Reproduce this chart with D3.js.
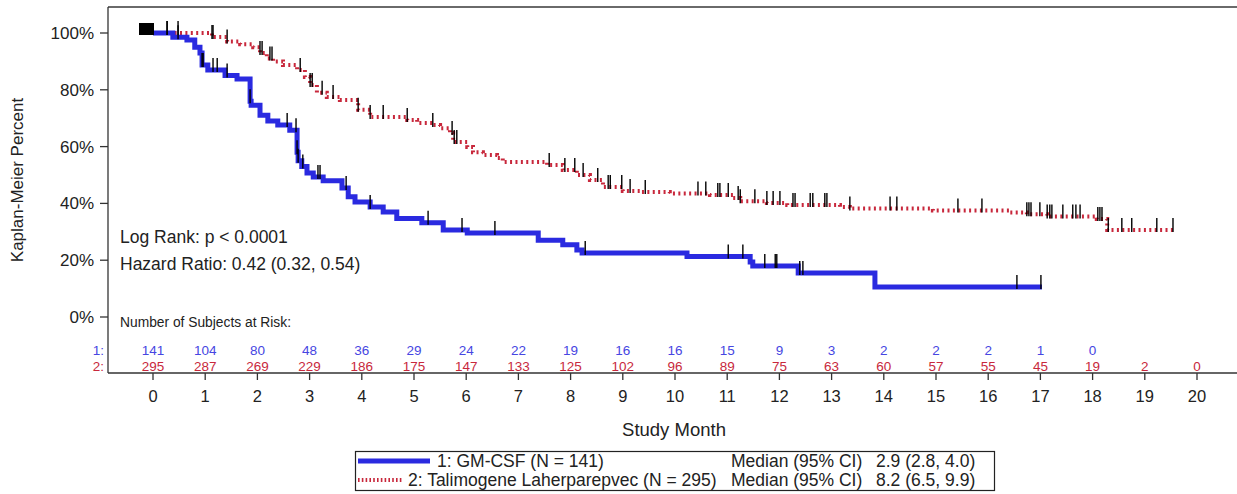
<!DOCTYPE html>
<html>
<head>
<meta charset="utf-8">
<script src="https://cdn.jsdelivr.net/npm/d3@7"></script>
<style>
  body { margin: 0; background: #fff; }
  svg { display: block; font-family: "Liberation Sans", Arial, sans-serif; }
</style>
</head>
<body>
<svg id="chart" width="1237" height="494"></svg>
<script>
// Kaplan-Meier curves: [month, percent] at each step
const gmcsfSteps = [
  [0, 100], [0.38, 98.5], [0.65, 97.5], [0.80, 95], [0.90, 93], [0.94, 88.7],
  [1.05, 87], [1.38, 85], [1.61, 83.8], [1.86, 76], [1.88, 74.6], [2.05, 71],
  [2.20, 69], [2.39, 67.6], [2.62, 65.8], [2.76, 58], [2.78, 55], [2.85, 53],
  [2.95, 50.7], [3.07, 49.3], [3.26, 48], [3.62, 45.4], [3.74, 42.3], [3.87, 40.5],
  [4.16, 38.7], [4.41, 37], [4.67, 34.7], [5.15, 33.2], [5.56, 30.6], [6.02, 29.6],
  [7.38, 27], [7.85, 25.4], [8.12, 23.6], [8.22, 22.5], [10.23, 21.3], [11.44, 19.4],
  [11.49, 18], [12.36, 15.5], [13.83, 10.6]
];
const gmcsfEnd = 17.03;

const tvecSteps = [
  [0, 100], [1.13, 98.6], [1.42, 97], [1.67, 96], [1.92, 95], [2.05, 93],
  [2.18, 91], [2.30, 90], [2.49, 88.7], [2.76, 87], [2.91, 84.5], [3.01, 81.7],
  [3.14, 79], [3.33, 77.5], [3.58, 76.4], [3.93, 73], [4.16, 70.4], [4.87, 69.4],
  [5.06, 68.3], [5.36, 67.6], [5.50, 66.5], [5.69, 64.8], [5.75, 61.6], [6.02, 59.9],
  [6.13, 58], [6.32, 57], [6.59, 56], [6.70, 54.6], [7.55, 53.5], [7.85, 51.8],
  [8.12, 50], [8.37, 48.2], [8.62, 45.8], [9.00, 44.4], [9.33, 44], [9.90, 43.5],
  [10.67, 43], [11.11, 41.9], [11.25, 40.8], [11.76, 40.1], [12.15, 39.4], [13.16, 38.7],
  [13.35, 38.2], [14.94, 37.5], [16.42, 36.8], [16.74, 36.2], [17.13, 35.4], [18.08, 34.5],
  [18.28, 30.6]
];
const tvecEnd = 19.54;

// censored observations (months)
const gmcsfCensor = [0.27, 0.48, 0.94, 0.96, 1.15, 1.23, 1.42, 1.86, 2.57, 2.74, 2.76, 2.78,
  2.87, 3.16, 3.20, 3.70, 4.16, 5.27, 5.92, 6.55, 8.28, 11.02, 11.30, 11.72, 11.92, 11.95,
  12.39, 12.45, 16.55, 17.01];
const tvecCensor = [0.27, 0.48, 1.13, 1.15, 1.42, 2.05, 2.09, 2.24, 2.28, 2.82, 3.01, 3.05,
  3.24, 3.45, 3.93, 4.16, 4.41, 4.87, 5.36, 5.73, 5.77, 5.82, 7.59, 7.89, 8.08, 8.24, 8.52,
  8.72, 8.76, 8.98, 9.14, 9.43, 10.44, 10.59, 10.82, 10.86, 11.02, 11.21, 11.25, 11.53,
  11.76, 11.88, 12.01, 12.26, 12.30, 12.59, 12.64, 12.87, 12.91, 13.35, 14.12, 14.25,
  15.42, 15.88, 16.74, 16.78, 16.82, 16.99, 17.13, 17.18, 17.22, 17.43, 17.62, 17.68,
  17.76, 18.10, 18.14, 18.18, 18.30, 18.56, 18.75, 19.23, 19.54];

const atRiskMonths = d3.range(0, 21);
const atRiskGmcsf = [141, 104, 80, 48, 36, 29, 24, 22, 19, 16, 16, 15, 9, 3, 2, 2, 2, 1, 0];
const atRiskTvec = [295, 287, 269, 229, 186, 175, 147, 133, 125, 102, 96, 89, 75, 63, 60, 57, 55, 45, 19, 2, 0];

const yTicks = [0, 20, 40, 60, 80, 100];
const legendLabels = ["1: GM-CSF (N = 141)", "2: Talimogene Laherparepvec (N = 295)"];
const legendMedians = ["2.9 (2.8, 4.0)", "8.2 (6.5, 9.9)"];

const BLUE = "#2a2ae0";
const BLUE_TXT = "#4646e2";
const RED = "#c8283c";
const TXT = "#222";

const svg = d3.select("#chart");
const frameL = 108, frameT = 7, frameB = 373, frameR = 1237;

const x = d3.scaleLinear().domain([0, 20]).range([153, 1197]);
const y = d3.scaleLinear().domain([0, 100]).range([317, 33]);

// frame
svg.append("line").attr("x1", frameL).attr("x2", frameR).attr("y1", frameT).attr("y2", frameT)
  .attr("stroke", "#6a6a6a").attr("stroke-width", 2);
svg.append("line").attr("x1", frameL).attr("x2", frameL).attr("y1", frameT).attr("y2", frameB)
  .attr("stroke", "#333").attr("stroke-width", 1.3);
svg.append("line").attr("x1", frameL).attr("x2", frameR).attr("y1", frameB).attr("y2", frameB)
  .attr("stroke", "#333").attr("stroke-width", 1.3);

// y axis
const yAxis = svg.append("g");
yAxis.selectAll("line").data(yTicks).enter().append("line")
  .attr("x1", frameL - 8).attr("x2", frameL).attr("y1", d => y(d)).attr("y2", d => y(d))
  .attr("stroke", "#333").attr("stroke-width", 1.3);
yAxis.selectAll("text").data(yTicks).enter().append("text")
  .attr("x", frameL - 14).attr("y", d => y(d) + 6)
  .attr("text-anchor", "end").attr("font-size", 17).attr("fill", TXT)
  .text(d => d + "%");

svg.append("text")
  .attr("transform", "translate(23,180) rotate(-90)")
  .attr("text-anchor", "middle").attr("font-size", 17).attr("fill", TXT)
  .text("Kaplan-Meier Percent");

// x axis
const xAxis = svg.append("g");
xAxis.selectAll("line").data(atRiskMonths).enter().append("line")
  .attr("x1", d => x(d)).attr("x2", d => x(d)).attr("y1", frameB).attr("y2", frameB + 7)
  .attr("stroke", "#333").attr("stroke-width", 1.3);
xAxis.selectAll("text").data(atRiskMonths).enter().append("text")
  .attr("x", d => x(d)).attr("y", 402)
  .attr("text-anchor", "middle").attr("font-size", 16.5).attr("fill", TXT)
  .text(d => d);

svg.append("text").attr("x", 674).attr("y", 436)
  .attr("text-anchor", "middle").attr("font-size", 18.5).attr("fill", TXT)
  .text("Study Month");

// curves
const line = d3.line().x(d => x(d[0])).y(d => y(d[1])).curve(d3.curveStepAfter);
const withEnd = (steps, end) => steps.concat([[end, steps[steps.length - 1][1]]]);

svg.append("path").datum(withEnd(tvecSteps, tvecEnd))
  .attr("d", line).attr("fill", "none").attr("stroke", RED)
  .attr("stroke-width", 4).attr("stroke-dasharray", "2,3.4");

svg.append("path").datum(withEnd(gmcsfSteps, gmcsfEnd))
  .attr("d", line).attr("fill", "none").attr("stroke", BLUE)
  .attr("stroke-width", 5).attr("stroke-linejoin", "miter");

// censor ticks, placed on the curve
function survAt(steps, t) {
  const i = d3.bisector(d => d[0]).right(steps, t) - 1;
  return steps[Math.max(0, i)][1];
}
function drawCensor(steps, times) {
  svg.append("g").selectAll("line").data(times).enter().append("line")
    .attr("x1", d => x(d)).attr("x2", d => x(d))
    .attr("y1", d => y(survAt(steps, d)) - 12)
    .attr("y2", d => y(survAt(steps, d)) + 2)
    .attr("stroke", "#000").attr("stroke-width", 1.4);
}
drawCensor(tvecSteps, tvecCensor);
drawCensor(gmcsfSteps, gmcsfCensor);

// cluster of censored subjects at time 0
svg.append("rect")
  .attr("x", x(0) - 14).attr("y", y(100) - 10).attr("width", 15).attr("height", 12)
  .attr("fill", "#000");

// stats
svg.append("text").attr("x", 120).attr("y", 243).attr("font-size", 17.5).attr("fill", TXT)
  .text("Log Rank: p < 0.0001");
svg.append("text").attr("x", 120).attr("y", 270).attr("font-size", 17.5).attr("fill", TXT)
  .text("Hazard Ratio: 0.42 (0.32, 0.54)");

// at-risk table
svg.append("text").attr("x", 120).attr("y", 327).attr("font-size", 13.8).attr("fill", TXT)
  .text("Number of Subjects at Risk:");

svg.append("text").attr("x", 104).attr("y", 355).attr("text-anchor", "end")
  .attr("font-size", 13.5).attr("fill", BLUE_TXT).text("1:");
svg.append("text").attr("x", 104).attr("y", 371).attr("text-anchor", "end")
  .attr("font-size", 13.5).attr("fill", RED).text("2:");

svg.append("g").selectAll("text").data(atRiskGmcsf).enter().append("text")
  .attr("x", (d, i) => x(atRiskMonths[i])).attr("y", 355)
  .attr("text-anchor", "middle").attr("font-size", 13.5).attr("fill", BLUE_TXT)
  .text(d => d);
svg.append("g").selectAll("text").data(atRiskTvec).enter().append("text")
  .attr("x", (d, i) => x(atRiskMonths[i])).attr("y", 371)
  .attr("text-anchor", "middle").attr("font-size", 13.5).attr("fill", RED)
  .text(d => d);

// legend
const lg = svg.append("g");
lg.append("rect").attr("x", 355.5).attr("y", 451.5).attr("width", 639).attr("height", 39)
  .attr("fill", "none").attr("stroke", "#222").attr("stroke-width", 1.2);
lg.append("line").attr("x1", 358).attr("x2", 430).attr("y1", 461).attr("y2", 461)
  .attr("stroke", BLUE).attr("stroke-width", 5);
lg.append("line").attr("x1", 358).attr("x2", 402).attr("y1", 480).attr("y2", 480)
  .attr("stroke", RED).attr("stroke-width", 4).attr("stroke-dasharray", "1.6,2.2");
const labelX = [437, 408];
lg.selectAll("text.lab").data(legendLabels).enter().append("text")
  .attr("x", (d, i) => labelX[i]).attr("y", (d, i) => 467 + i * 18.5)
  .attr("font-size", 17.5).attr("fill", TXT).text(d => d);
lg.selectAll("text.med").data(legendMedians).enter().append("text")
  .attr("x", 731).attr("y", (d, i) => 467 + i * 18.5)
  .attr("font-size", 17.5).attr("fill", TXT).text("Median (95% CI)");
lg.selectAll("text.val").data(legendMedians).enter().append("text")
  .attr("x", 876).attr("y", (d, i) => 467 + i * 18.5)
  .attr("font-size", 17.5).attr("fill", TXT).text(d => d);
</script>
</body>
</html>
